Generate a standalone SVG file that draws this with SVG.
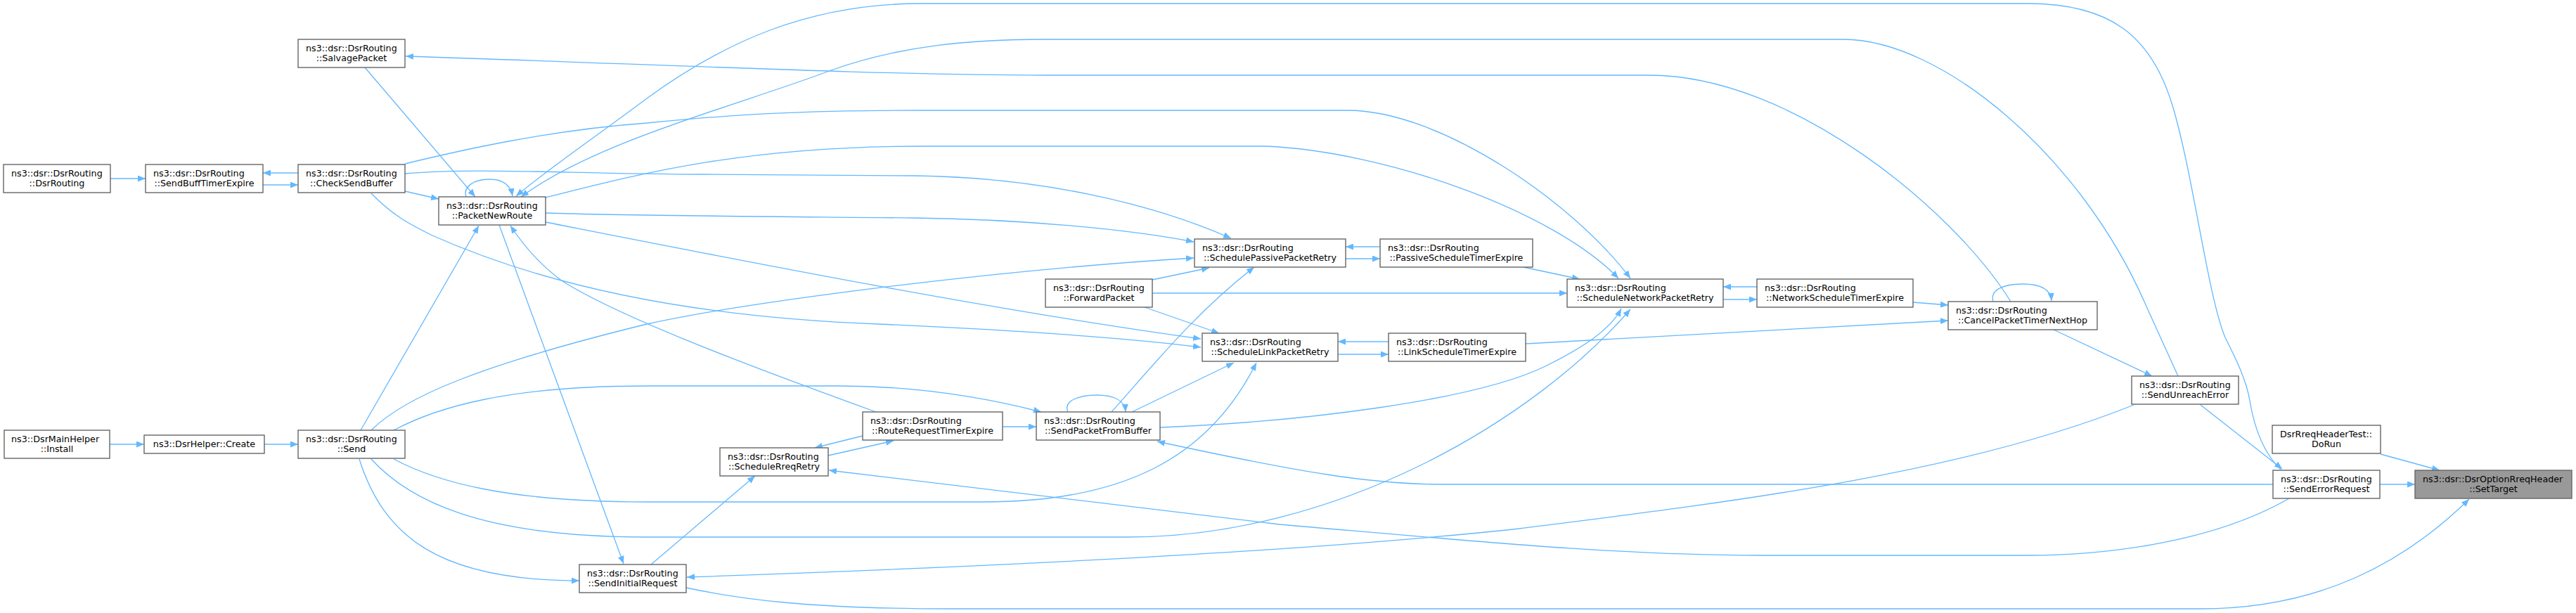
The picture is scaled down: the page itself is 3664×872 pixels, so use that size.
<svg xmlns="http://www.w3.org/2000/svg" width="3664" height="872" viewBox="0 0 3664 872">
<style>
.n rect{fill:#ffffff;stroke:#666666;stroke-width:1.4}
.n.root rect{fill:#999999}
.n text{font-family:"DejaVu Sans","Liberation Sans",sans-serif;font-size:12.7px;fill:#000000}
.n text.m{text-anchor:middle}
.e path{fill:none;stroke:#63b8ff;stroke-width:1.3;marker-end:url(#a)}
</style>
<defs>
<marker id="a" markerUnits="userSpaceOnUse" markerWidth="12" markerHeight="9" refX="11" refY="4.5" orient="auto">
<path d="M0,0 L11,4.5 L0,9 z" fill="#63b8ff"/>
</marker>
</defs>
<rect x="0" y="0" width="3664" height="872" fill="#ffffff"/>
<g id="edges" class="e">
<path d="M157,254 L207,254"/>
<path d="M374,263 L424,263"/>
<path d="M424,246 L374,246"/>
<path d="M576,272 L624,283"/>
<path d="M663,280 C658,265 675,255 696,255 C714,255 726,262 729,279"/>
<path d="M519,96 L676,280"/>
<path d="M3244,668 C3215,640 3205,600 3200,570 C3195,540 3180,510 3165,480 C3140,420 3120,250 3090,150 C3060,50 3000,5 2884,5 L1311,5 C1150,5 1030,60 920,140 C840,200 780,240 734,279"/>
<path d="M3098,535 L3053,436 C2960,220 2760,56 2622,56 L1487,56 C1380,56 1280,65 1182,100 C1050,150 850,200 741,280"/>
<path d="M2860,429 C2780,300 2550,107 2346,107 L1487,107 C1250,107 900,90 577,80"/>
<path d="M576,233 C650,215 780,185 920,175 C1050,162 1150,157 1311,157 L1917,157 C2050,157 2240,290 2319,396"/>
<path d="M776,281 C900,250 1050,208 1311,208 L1800,208 C1970,215 2210,300 2302,396"/>
<path d="M576,247 C680,238 800,247 1000,248 L1300,250 C1480,252 1640,290 1751,339"/>
<path d="M776,303 C900,307 1100,308 1300,310 C1450,312 1600,325 1698,344"/>
<path d="M776,316 C1000,360 1400,440 1708,482"/>
<path d="M528,275 C560,308 585,320 615,335 C750,395 950,450 1250,461 C1450,470 1600,480 1708,494"/>
<path d="M513,612 L681,321"/>
<path d="M1246,586 C1050,515 880,450 800,400 C770,378 745,350 726,321"/>
<path d="M710,320 L887,802"/>
<path d="M528,612 C575,565 680,520 920,461 C1050,432 1400,385 1698,367"/>
<path d="M560,612 C620,580 720,549 920,549 L1193,549 C1300,549 1400,565 1481,586"/>
<path d="M560,653 C620,685 720,714 920,714 L1399,714 C1600,714 1720,650 1787,516"/>
<path d="M528,653 C580,710 680,764 920,764 L1603,764 C1900,764 2180,600 2319,440"/>
<path d="M511,653 C545,760 620,826 824,826"/>
<path d="M376,632 L424,632"/>
<path d="M156,632 L205,632"/>
<path d="M1227,620 L1159,637"/>
<path d="M1178,648 L1271,627"/>
<path d="M926,803 L1074,677"/>
<path d="M1426,607 L1474,607"/>
<path d="M1519,586 C1512,570 1535,562 1560,562 C1585,562 1600,570 1601,586"/>
<path d="M1581,586 C1640,520 1700,445 1784,380"/>
<path d="M1610,586 L1755,516"/>
<path d="M1628,437 L1734,474"/>
<path d="M1639,398 L1720,381"/>
<path d="M1639,417 L2229,417"/>
<path d="M1963,351 L1914,351"/>
<path d="M1914,368 L1963,368"/>
<path d="M2167,380 L2247,397"/>
<path d="M2499,408 L2451,408"/>
<path d="M2451,426 L2499,426"/>
<path d="M1975,486 L1903,486"/>
<path d="M1903,504 L1975,504"/>
<path d="M1650,608 C1850,600 2100,570 2200,520 C2250,495 2290,470 2306,439"/>
<path d="M2170,489 L2771,456"/>
<path d="M2721,430 L2771,434"/>
<path d="M2835,429 C2830,412 2850,404 2877,404 C2903,404 2917,412 2918,428"/>
<path d="M2921,469 L3061,535"/>
<path d="M3130,576 L3246,667"/>
<path d="M3386,646 L3470,669"/>
<path d="M3385,689 L3435,689"/>
<path d="M976,836 C1050,852 1150,866 1350,866 L3130,866 C3300,866 3420,800 3512,710"/>
<path d="M3256,709 C3150,770 3000,790 2884,790 L2504,790 C2300,790 2100,770 1820,746 L1179,669"/>
<path d="M3233,689 L2052,689 C1950,689 1850,672 1646,628"/>
<path d="M3035,576 C2800,670 2500,710 2152,753 C1800,790 1300,810 977,821"/>
</g>
<g id="n_dsrrouting" class="n"><rect x="5" y="234" width="152" height="40"/><text x="16" y="251">ns3::dsr::DsrRouting</text><text class="m" x="81" y="265">::DsrRouting</text></g>
<g id="n_sendbufftimerexpire" class="n"><rect x="207" y="234" width="167" height="40"/><text x="218" y="251">ns3::dsr::DsrRouting</text><text class="m" x="290.5" y="265">::SendBuffTimerExpire</text></g>
<g id="n_checksendbuffer" class="n"><rect x="424" y="234" width="152" height="40"/><text x="435" y="251">ns3::dsr::DsrRouting</text><text class="m" x="500" y="265">::CheckSendBuffer</text></g>
<g id="n_salvagepacket" class="n"><rect x="424" y="56" width="152" height="40"/><text x="435" y="73">ns3::dsr::DsrRouting</text><text class="m" x="500" y="87">::SalvagePacket</text></g>
<g id="n_packetnewroute" class="n"><rect x="624" y="280" width="152" height="40"/><text x="635" y="297">ns3::dsr::DsrRouting</text><text class="m" x="700" y="311">::PacketNewRoute</text></g>
<g id="n_install" class="n"><rect x="6" y="612" width="150" height="40"/><text x="16" y="629">ns3::DsrMainHelper</text><text class="m" x="81" y="643">::Install</text></g>
<g id="n_create" class="n"><rect x="205" y="619" width="171" height="26"/><text class="m" x="290.5" y="636">ns3::DsrHelper::Create</text></g>
<g id="n_send" class="n"><rect x="424" y="612" width="152" height="40"/><text x="435" y="629">ns3::dsr::DsrRouting</text><text class="m" x="500" y="643">::Send</text></g>
<g id="n_sendinitialrequest" class="n"><rect x="824" y="803" width="152" height="40"/><text x="835" y="820">ns3::dsr::DsrRouting</text><text class="m" x="900" y="834">::SendInitialRequest</text></g>
<g id="n_schedulerreqretry" class="n"><rect x="1024" y="637" width="154" height="40"/><text x="1035" y="654">ns3::dsr::DsrRouting</text><text class="m" x="1101" y="668">::ScheduleRreqRetry</text></g>
<g id="n_routerequesttimerexpire" class="n"><rect x="1227" y="586" width="199" height="40"/><text x="1238" y="603">ns3::dsr::DsrRouting</text><text class="m" x="1326.5" y="617">::RouteRequestTimerExpire</text></g>
<g id="n_sendpacketfrombuffer" class="n"><rect x="1474" y="586" width="176" height="40"/><text x="1485" y="603">ns3::dsr::DsrRouting</text><text class="m" x="1562" y="617">::SendPacketFromBuffer</text></g>
<g id="n_forwardpacket" class="n"><rect x="1487" y="397" width="152" height="40"/><text x="1498" y="414">ns3::dsr::DsrRouting</text><text class="m" x="1563" y="428">::ForwardPacket</text></g>
<g id="n_schedulepassivepacketretry" class="n"><rect x="1699" y="340" width="215" height="40"/><text x="1710" y="357">ns3::dsr::DsrRouting</text><text class="m" x="1806.5" y="371">::SchedulePassivePacketRetry</text></g>
<g id="n_schedulelinkpacketretry" class="n"><rect x="1710" y="474" width="193" height="40"/><text x="1721" y="491">ns3::dsr::DsrRouting</text><text class="m" x="1806.5" y="505">::ScheduleLinkPacketRetry</text></g>
<g id="n_passivescheduletimerexpire" class="n"><rect x="1963" y="340" width="217" height="40"/><text x="1974" y="357">ns3::dsr::DsrRouting</text><text class="m" x="2071.5" y="371">::PassiveScheduleTimerExpire</text></g>
<g id="n_linkscheduletimerexpire" class="n"><rect x="1975" y="474" width="195" height="40"/><text x="1986" y="491">ns3::dsr::DsrRouting</text><text class="m" x="2072.5" y="505">::LinkScheduleTimerExpire</text></g>
<g id="n_schedulenetworkpacketretry" class="n"><rect x="2229" y="397" width="222" height="40"/><text x="2240" y="414">ns3::dsr::DsrRouting</text><text class="m" x="2340" y="428">::ScheduleNetworkPacketRetry</text></g>
<g id="n_networkscheduletimerexpire" class="n"><rect x="2499" y="397" width="222" height="40"/><text x="2510" y="414">ns3::dsr::DsrRouting</text><text class="m" x="2610" y="428">::NetworkScheduleTimerExpire</text></g>
<g id="n_cancelpackettimernexthop" class="n"><rect x="2771" y="429" width="212" height="40"/><text x="2782" y="446">ns3::dsr::DsrRouting</text><text class="m" x="2877" y="460">::CancelPacketTimerNextHop</text></g>
<g id="n_sendunreacherror" class="n"><rect x="3032" y="535" width="152" height="40"/><text x="3043" y="552">ns3::dsr::DsrRouting</text><text class="m" x="3108" y="566">::SendUnreachError</text></g>
<g id="n_dorun" class="n"><rect x="3232" y="605" width="154" height="40"/><text x="3243" y="622">DsrRreqHeaderTest::</text><text class="m" x="3309" y="636">DoRun</text></g>
<g id="n_senderrorrequest" class="n"><rect x="3233" y="669" width="152" height="40"/><text x="3244" y="686">ns3::dsr::DsrRouting</text><text class="m" x="3309" y="700">::SendErrorRequest</text></g>
<g id="n_settarget" class="n root"><rect x="3435" y="669" width="223" height="40"/><text x="3446" y="686">ns3::dsr::DsrOptionRreqHeader</text><text class="m" x="3546.5" y="700">::SetTarget</text></g>
</svg>
